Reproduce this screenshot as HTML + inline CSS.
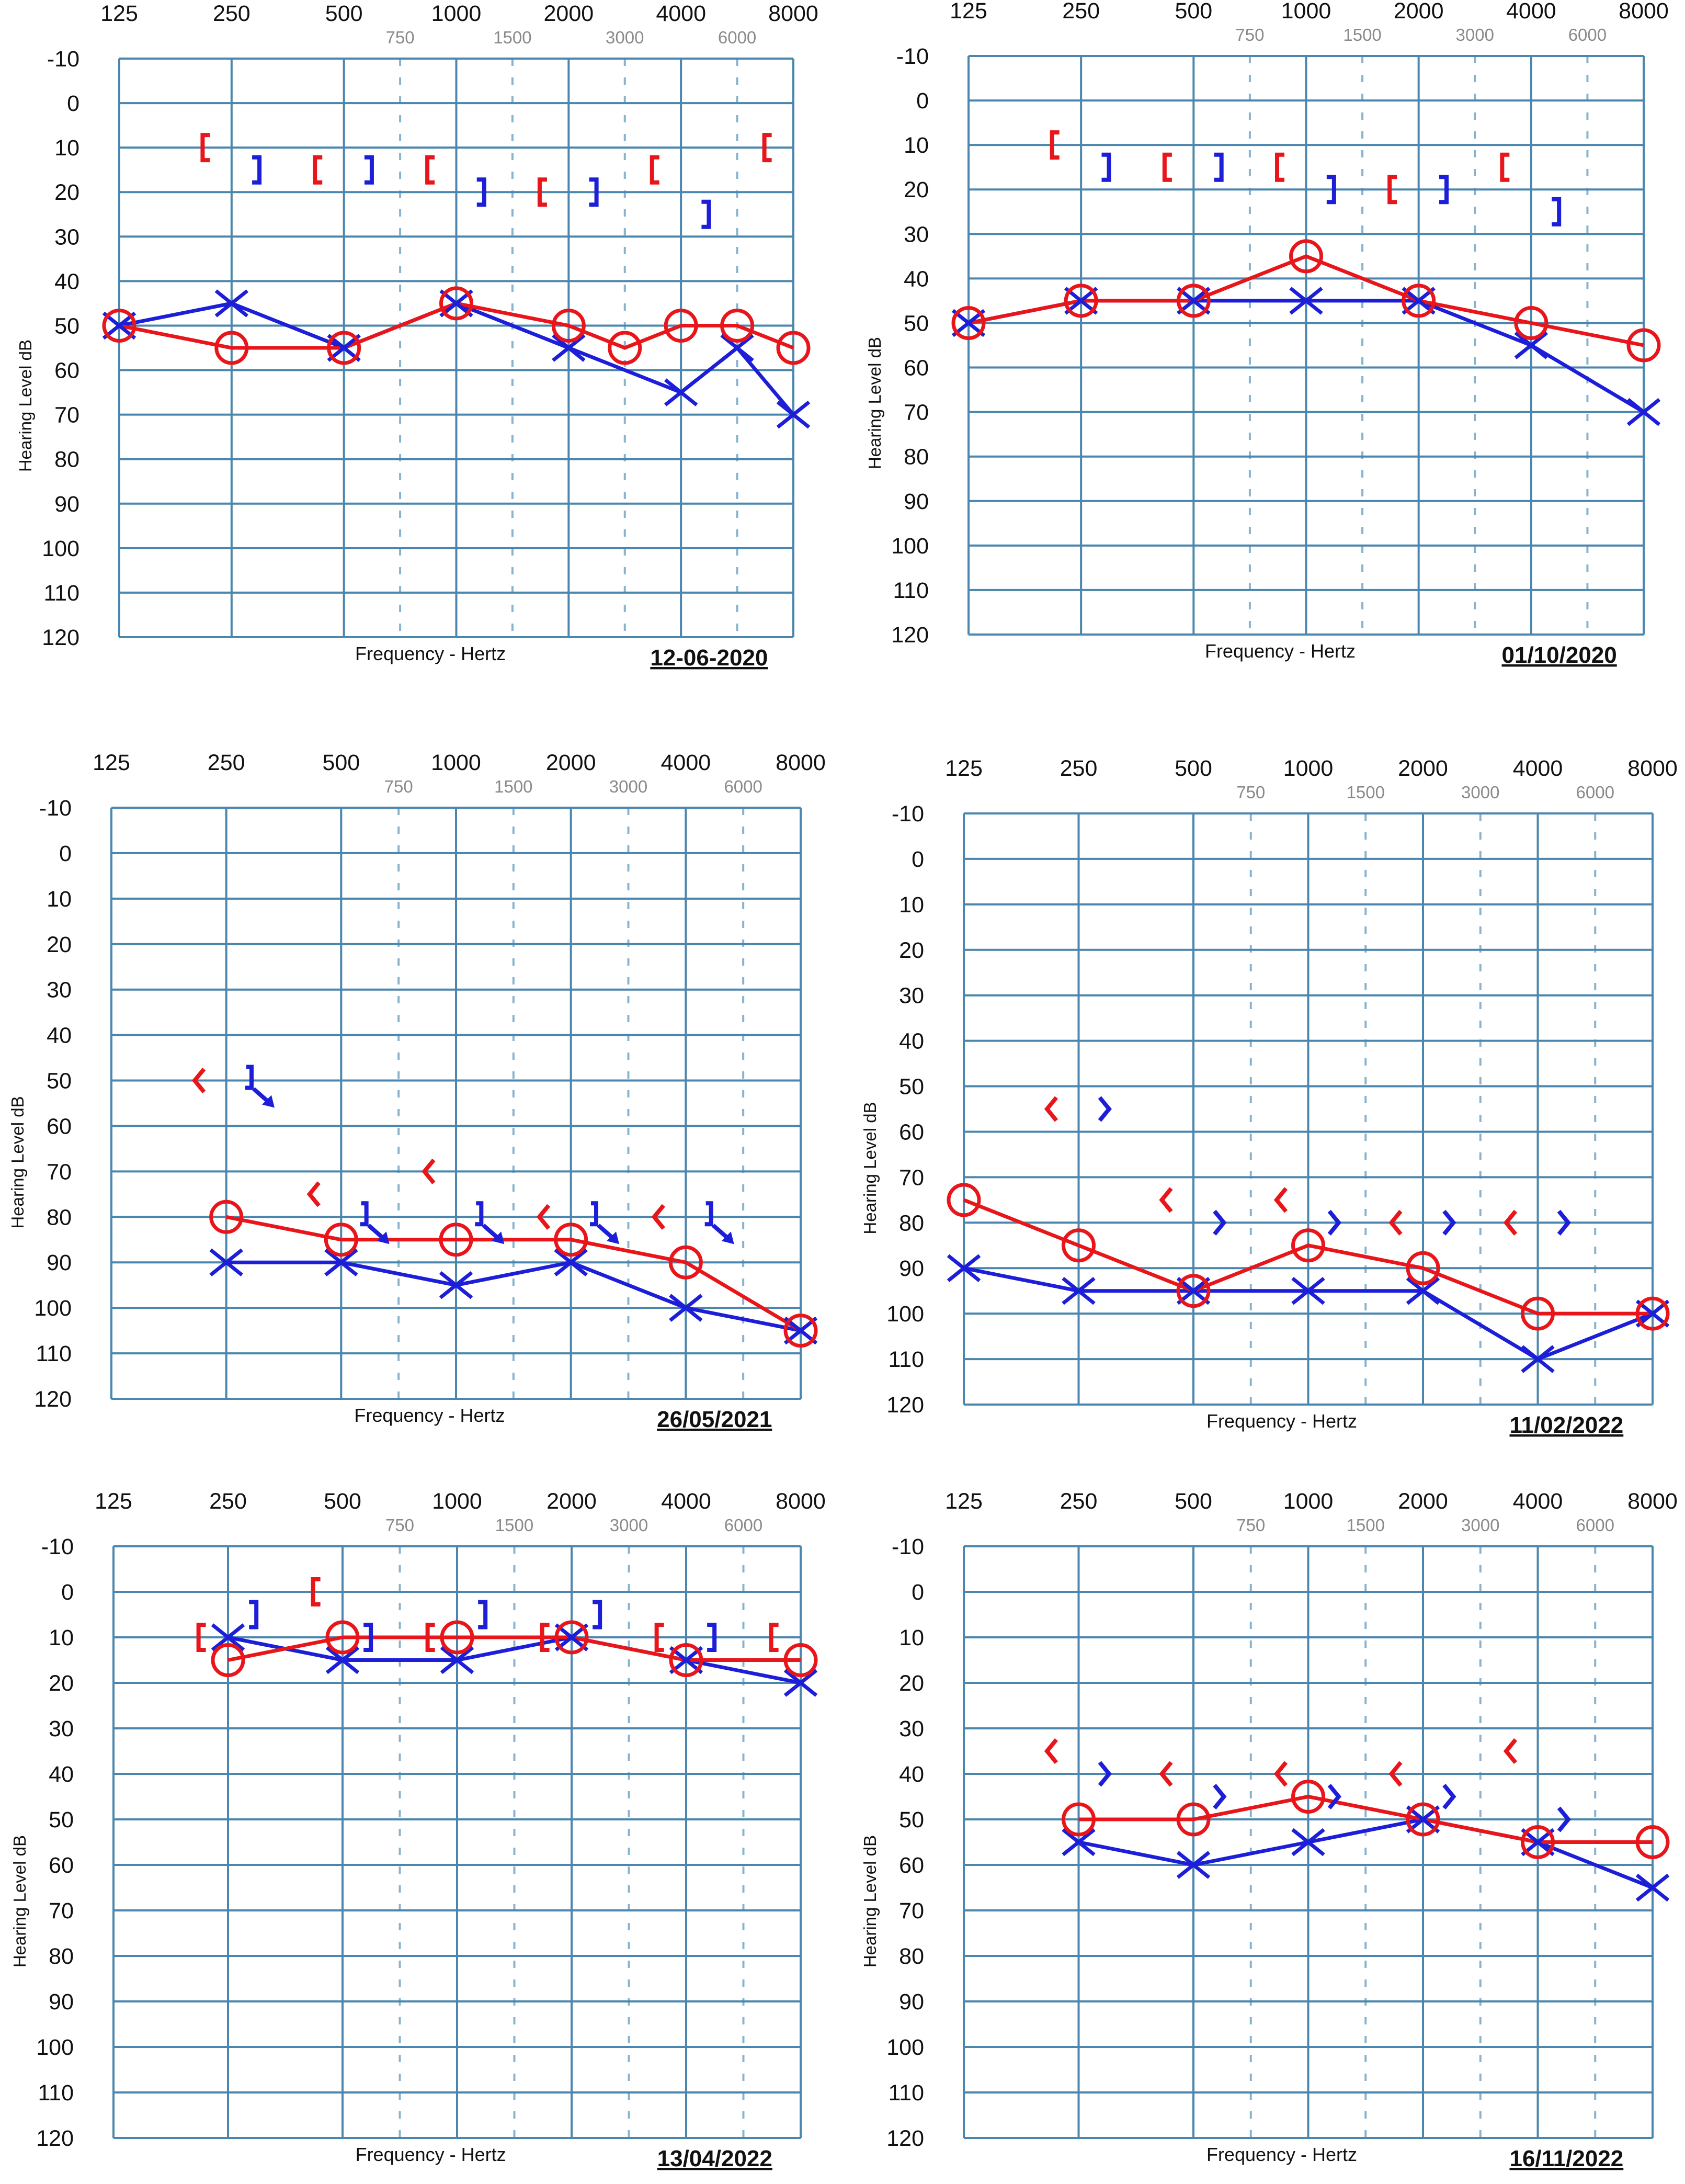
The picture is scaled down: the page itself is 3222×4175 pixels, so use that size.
<!DOCTYPE html>
<html><head><meta charset="utf-8"><style>
html,body{margin:0;padding:0;background:#fff;}
svg{display:block;}
</style></head><body>
<svg id="root" width="3222" height="4175" viewBox="0 0 3222 4175" xmlns="http://www.w3.org/2000/svg" font-family="Liberation Sans, sans-serif"></svg>
<script>
const freqLabels = ['125','250','500','1000','2000','4000','8000'];
const halfLabels = ['750','1500','3000','6000'];
const halfFreqs = [750,1500,3000,6000];
const dbTicks = [-10,0,10,20,30,40,50,60,70,80,90,100,110,120];

// Chart 1: 12-06-2020
const c1RightFreq = [125,250,500,1000,2000,3000,4000,6000,8000];
const c1RightDb = [50,55,55,45,50,55,50,50,55];
const c1LeftFreq = [125,250,500,1000,2000,4000,6000,8000];
const c1LeftDb = [50,45,55,45,55,65,55,70];
const c1RBoneFreq = [250,500,1000,2000,4000,8000];
const c1RBoneDb = [10,15,15,20,15,10];
const c1LBoneFreq = [250,500,1000,2000,4000];
const c1LBoneDb = [15,15,20,20,25];

// Chart 2: 01/10/2020
const c2RightFreq = [125,250,500,1000,2000,4000,8000];
const c2RightDb = [50,45,45,35,45,50,55];
const c2LeftFreq = [125,250,500,1000,2000,4000,8000];
const c2LeftDb = [50,45,45,45,45,55,70];
const c2RBoneFreq = [250,500,1000,2000,4000];
const c2RBoneDb = [10,15,15,20,15];
const c2LBoneFreq = [250,500,1000,2000,4000];
const c2LBoneDb = [15,15,20,20,25];

// Chart 3: 26/05/2021
const c3RightFreq = [250,500,1000,2000,4000,8000];
const c3RightDb = [80,85,85,85,90,105];
const c3LeftFreq = [250,500,1000,2000,4000,8000];
const c3LeftDb = [90,90,95,90,100,105];
const c3RBoneFreq = [250,500,1000,2000,4000];
const c3RBoneDb = [50,75,70,80,80];
const c3LBoneFreq = [250,500,1000,2000,4000];
const c3LBoneDb = [50,80,80,80,80];

// Chart 4: 11/02/2022
const c4RightFreq = [125,250,500,1000,2000,4000,8000];
const c4RightDb = [75,85,95,85,90,100,100];
const c4LeftFreq = [125,250,500,1000,2000,4000,8000];
const c4LeftDb = [90,95,95,95,95,110,100];
const c4RBoneFreq = [250,500,1000,2000,4000];
const c4RBoneDb = [55,75,75,80,80];
const c4LBoneFreq = [250,500,1000,2000,4000];
const c4LBoneDb = [55,80,80,80,80];

// Chart 5: 13/04/2022
const c5RightFreq = [250,500,1000,2000,4000,8000];
const c5RightDb = [15,10,10,10,15,15];
const c5LeftFreq = [250,500,1000,2000,4000,8000];
const c5LeftDb = [10,15,15,10,15,20];
const c5RBoneFreq = [250,500,1000,2000,4000,8000];
const c5RBoneDb = [10,0,10,10,10,10];
const c5LBoneFreq = [250,500,1000,2000,4000];
const c5LBoneDb = [5,10,5,5,10];

// Chart 6: 16/11/2022
const c6RightFreq = [250,500,1000,2000,4000,8000];
const c6RightDb = [50,50,45,50,55,55];
const c6LeftFreq = [250,500,1000,2000,4000,8000];
const c6LeftDb = [55,60,55,50,55,65];
const c6RBoneFreq = [250,500,1000,2000,4000];
const c6RBoneDb = [35,40,40,40,35];
const c6LBoneFreq = [250,500,1000,2000,4000];
const c6LBoneDb = [40,45,45,45,50];

const RED = '#e8161b', BLUE = '#1c1ed8', GRID = '#4a86ad';
const NS = 'http://www.w3.org/2000/svg';
const root = document.getElementById('root');

function mk(tag, attrs, parent) {
  const e = document.createElementNS(NS, tag);
  for (const k in attrs) e.setAttribute(k, attrs[k]);
  parent.appendChild(e);
  return e;
}

function freqIndex(f) {
  let idx = Math.log2(f / 125);
  const fl = Math.floor(idx + 1e-6);
  if (idx - fl > 0.01) idx = fl + 0.5;
  return idx;
}

const charts = [
  {name:'audiogram-12-06-2020', L:228, R:1517, T:112, B:1218, date:'12-06-2020', rf:c1RightFreq, rd:c1RightDb, lf:c1LeftFreq, ld:c1LeftDb, rbf:c1RBoneFreq, rbd:c1RBoneDb, lbf:c1LBoneFreq, lbd:c1LBoneDb, bone:'bracket'},
  {name:'audiogram-01-10-2020', L:1852, R:3143, T:107, B:1213, date:'01/10/2020', rf:c2RightFreq, rd:c2RightDb, lf:c2LeftFreq, ld:c2LeftDb, rbf:c2RBoneFreq, rbd:c2RBoneDb, lbf:c2LBoneFreq, lbd:c2LBoneDb, bone:'bracket'},
  {name:'audiogram-26-05-2021', L:213, R:1531, T:1544, B:2674, date:'26/05/2021', rf:c3RightFreq, rd:c3RightDb, lf:c3LeftFreq, ld:c3LeftDb, rbf:c3RBoneFreq, rbd:c3RBoneDb, lbf:c3LBoneFreq, lbd:c3LBoneDb, bone:'noresp'},
  {name:'audiogram-11-02-2022', L:1843, R:3160, T:1555, B:2685, date:'11/02/2022', rf:c4RightFreq, rd:c4RightDb, lf:c4LeftFreq, ld:c4LeftDb, rbf:c4RBoneFreq, rbd:c4RBoneDb, lbf:c4LBoneFreq, lbd:c4LBoneDb, bone:'chevron'},
  {name:'audiogram-13-04-2022', L:217, R:1531, T:2956, B:4087, date:'13/04/2022', rf:c5RightFreq, rd:c5RightDb, lf:c5LeftFreq, ld:c5LeftDb, rbf:c5RBoneFreq, rbd:c5RBoneDb, lbf:c5LBoneFreq, lbd:c5LBoneDb, bone:'bracket'},
  {name:'audiogram-16-11-2022', L:1843, R:3160, T:2956, B:4087, date:'16/11/2022', rf:c6RightFreq, rd:c6RightDb, lf:c6LeftFreq, ld:c6LeftDb, rbf:c6RBoneFreq, rbd:c6RBoneDb, lbf:c6LBoneFreq, lbd:c6LBoneDb, bone:'chevron'}
];

charts.forEach(c => {
  const g = mk('g', {}, root);
  
  
  const colW = (c.R - c.L) / 6;
  const rowH = (c.B - c.T) / 13;
  const xf = f => c.L + freqIndex(f) * colW;
  const yd = d => c.T + (d + 10) / 10 * rowH;

  halfFreqs.forEach((f, i) => {
    const l = mk('line', {x1:xf(f), x2:xf(f), y1:c.T, y2:c.B, stroke:'#86b4cf', 'stroke-width':4, 'stroke-dasharray':'14 22'}, g);
    
    
    const t = mk('text', {x:xf(f), y:c.T - 29, 'text-anchor':'middle', 'font-size':33, fill:'#8a8a8a'}, g);
    t.textContent = halfLabels[i];
    
    
  });
  dbTicks.forEach(d => {
    const l = mk('line', {x1:c.L, x2:c.R, y1:yd(d), y2:yd(d), stroke:GRID, 'stroke-width':4}, g);
    
    
    const t = mk('text', {x:c.L - 76, y:yd(d) + 15, 'text-anchor':'end', 'font-size':43, fill:'#111'}, g);
    t.textContent = String(d);
    
    
  });
  freqLabels.forEach((lab, i) => {
    const x = c.L + i * colW;
    const l = mk('line', {x1:x, x2:x, y1:c.T, y2:c.B, stroke:GRID, 'stroke-width':4}, g);
    
    
    const t = mk('text', {x:x, y:c.T - 72, 'text-anchor':'middle', 'font-size':43, fill:'#111'}, g);
    t.textContent = lab;
    
    
  });
  const yl = mk('text', {x:0, y:0, 'text-anchor':'middle', 'font-size':33, fill:'#111', transform:`translate(${c.L-168},${c.T + 0.6*(c.B-c.T)}) rotate(-90)`}, g);
  yl.textContent = 'Hearing Level dB';
  
  
  const xl = mk('text', {x:c.L + 2.77*colW, y:c.B + 44, 'text-anchor':'middle', 'font-size':36, fill:'#111'}, g);
  xl.textContent = 'Frequency - Hertz';
  
  
  const dt = mk('text', {x:c.L + 5.25*colW, y:c.B + 54, 'text-anchor':'middle', 'font-size':44, 'font-weight':'bold', fill:'#111', 'text-decoration':'underline'}, g);
  dt.textContent = c.date;
  
  

  const pl = (fs, ds, col, nm) => {
    const p = mk('polyline', {points: fs.map((f, i) => xf(f) + ',' + yd(ds[i])).join(' '), fill:'none', stroke:col, 'stroke-width':7}, g);
    
    
  };
  pl(c.lf, c.ld, BLUE, 'left-ear-line');
  pl(c.rf, c.rd, RED, 'right-ear-line');
  c.lf.forEach((f, i) => {
    const x = xf(f), y = yd(c.ld[i]), s = 30;
    const p = mk('path', {d:`M${x-s} ${y-s*0.8}L${x+s} ${y+s*0.8}M${x-s} ${y+s*0.8}L${x+s} ${y-s*0.8}`, stroke:BLUE, 'stroke-width':7, fill:'none'}, g);
    
    
  });
  c.rf.forEach((f, i) => {
    const p = mk('circle', {cx:xf(f), cy:yd(c.rd[i]), r:29, stroke:RED, 'stroke-width':7, fill:'none'}, g);
    
    
  });
  c.rbf.forEach((f, i) => {
    const x = xf(f) - 0.23 * colW, y = yd(c.rbd[i]);
    let d;
    if (c.bone === 'bracket') d = `M${x+8} ${y-24}L${x-6} ${y-24}L${x-6} ${y+24}L${x+8} ${y+24}`;
    else d = `M${x+8} ${y-22}L${x-10} ${y}L${x+8} ${y+22}`;
    const p = mk('path', {d:d, stroke:RED, 'stroke-width':8, fill:'none'}, g);
    
    
  });
  c.lbf.forEach((f, i) => {
    const x = xf(f) + 0.22 * colW, y = yd(c.lbd[i]);
    let d;
    if (c.bone === 'bracket') d = `M${x-8} ${y-24}L${x+6} ${y-24}L${x+6} ${y+24}L${x-8} ${y+24}`;
    else if (c.bone === 'chevron') d = `M${x-8} ${y-22}L${x+10} ${y}L${x-8} ${y+22}`;
    else d = `M${x-10} ${y-26}L${x} ${y-26}L${x} ${y+14}L${x-12} ${y+14}M${x+4} ${y+16}L${x+36} ${y+44}`;
    const p = mk('path', {d:d, stroke:BLUE, 'stroke-width':8, fill:'none'}, g);
    
    
    if (c.bone === 'noresp') {
      const a = mk('path', {d:`M${x+44} ${y+52}L${x+20} ${y+46}L${x+38} ${y+28}Z`, fill:BLUE}, g);
      
      
    }
  });
});
</script>
</body></html>
